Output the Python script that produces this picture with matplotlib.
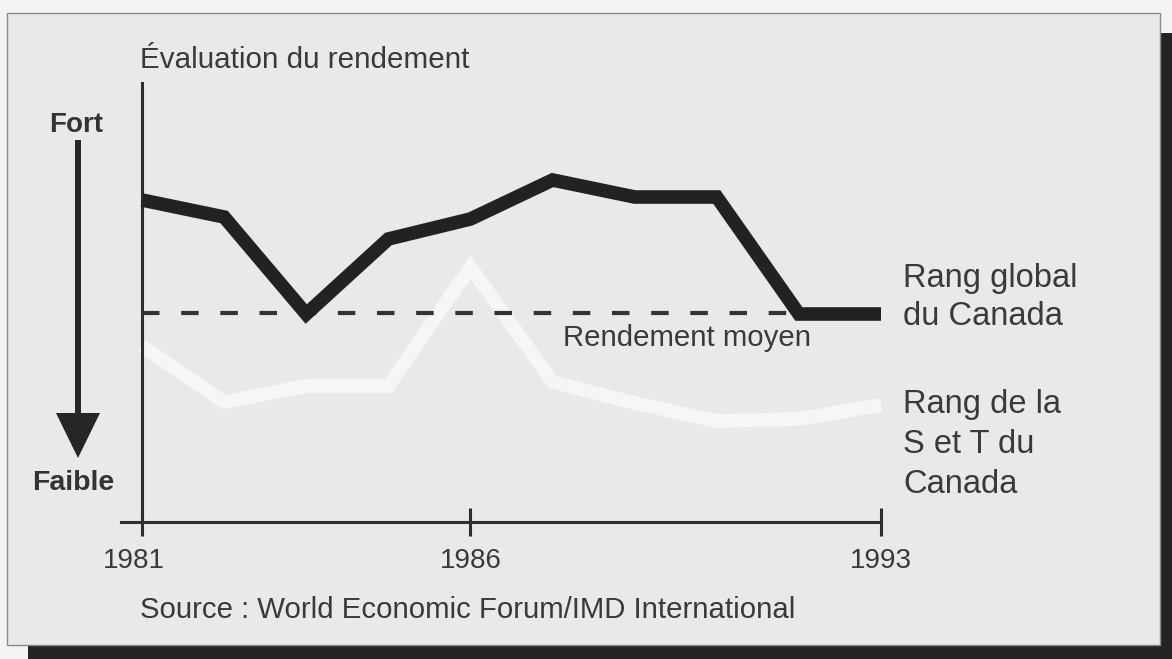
import matplotlib
matplotlib.use("Agg")
import matplotlib.pyplot as plt
from matplotlib.patches import Rectangle, Polygon
from matplotlib.transforms import ScaledTranslation

# ---------------- data ----------------
points = list(range(10))                      # evaluation points 1981 ... 1993
tick_positions = [0, 4, 9]
tick_labels = ["1981", "1986", "1993"]
global_rank = [32.2, 30.5, 20.8, 28.3, 30.3, 34.2, 32.5, 32.5, 20.8, 20.8]
st_rank = [17.6, 12.0, 13.6, 13.6, 25.5, 14.0, 11.9, 10.1, 10.3, 11.7]
average = 20.9
global_label = ["Rang global", "du Canada"]
st_label = ["Rang de la", "S et T du", "Canada"]

W, H = 1172, 659
FONT = "Liberation Sans"
TXT = "#3a3a3a"
DARK = "#262626"

fig = plt.figure(figsize=(W / 100, H / 100), dpi=100)
fig.patch.set_facecolor("#f3f3f3")

# --------- overlay (pixel coordinates) for frame, arrow and texts ---------
bg = fig.add_axes([0, 0, 1, 1], zorder=0)
bg.set_xlim(0, W)
bg.set_ylim(H, 0)
bg.axis("off")
bg.add_patch(Rectangle((1160, 33), 12, H - 33, color="#232323", lw=0))
bg.add_patch(Rectangle((28, 645), W - 28, 14, color="#232323", lw=0))
bg.add_patch(Rectangle((7, 13), 1153, 632, facecolor="#e9e9e9",
                       edgecolor="#8a8a8a", lw=1))

# arrow Fort -> Faible
bg.plot([78, 78], [140, 416], color=DARK, lw=4.3, solid_capstyle="butt")
bg.add_patch(Polygon([(56, 413), (100, 413), (78, 458)], closed=True,
                     color=DARK, lw=0))
bg.text(76, 132, "Fort", fontsize=20, fontweight="bold", family=FONT,
        color="#333333", ha="center", va="baseline")
bg.text(73, 490, "Faible", fontsize=20.5, fontweight="bold", family=FONT,
        color="#333333", ha="center", va="baseline")

bg.text(140, 68, "Évaluation du rendement", fontsize=21.3, family=FONT,
        color=TXT, ha="left", va="baseline")
bg.text(140, 618, "Source : World Economic Forum/IMD International",
        fontsize=21.2, family=FONT, color=TXT, ha="left", va="baseline")
bg.text(563, 346, "Rendement moyen", fontsize=21.2, family=FONT,
        color=TXT, ha="left", va="baseline")
for i, line in enumerate(global_label):
    bg.text(903, 287 + 38 * i, line, fontsize=23.5, family=FONT,
            color=TXT, ha="left", va="baseline")
for i, line in enumerate(st_label):
    bg.text(903, 413 + 40 * i, line, fontsize=23.5, family=FONT,
            color=TXT, ha="left", va="baseline")

# ---------------- main chart axes ----------------
x_left_px, x0_px, x9_px = 121, 142, 881
step = (x9_px - x0_px) / 9
y_bottom_px, y_top_px = 522, 83
ax = fig.add_axes([x_left_px / W, (H - y_bottom_px) / H,
                   (x9_px - x_left_px) / W, (y_bottom_px - y_top_px) / H],
                  zorder=2)
ax.patch.set_visible(False)
ax.set_xlim(-(x0_px - x_left_px) / step, 9)
ax.set_ylim(0, (y_bottom_px - y_top_px) / 10)

ax.plot(points, st_rank, color="#f6f6f6", lw=9.8, solid_capstyle="butt",
        solid_joinstyle="miter", clip_on=False, zorder=2)
ax.plot([points[0], points[-1]], [average, average], color="#333333", lw=3,
        dashes=(4.2, 5.2), dash_capstyle="butt", zorder=3)
ax.plot(points, global_rank, color="#222222", lw=9.8, solid_capstyle="butt",
        solid_joinstyle="miter", clip_on=False, zorder=4)

for s in ("top", "right"):
    ax.spines[s].set_visible(False)
ax.spines["left"].set_position(("data", 0))
for s in ("left", "bottom"):
    ax.spines[s].set_linewidth(2.2)
    ax.spines[s].set_color("#2e2e2e")
ax.set_yticks([])
ax.set_xticks(tick_positions)
ax.set_xticklabels(tick_labels, fontsize=20, family=FONT, color=TXT)
ax.tick_params(axis="x", direction="inout", length=20, width=2.2,
               color="#2e2e2e", pad=8.5)
# first year label sits slightly left of its tick in the original
first = ax.get_xticklabels()[0]
first.set_transform(first.get_transform() +
                    ScaledTranslation(-8 / 100, 0, fig.dpi_scale_trans))

fig.savefig("out.png", dpi=100, facecolor=fig.get_facecolor())
